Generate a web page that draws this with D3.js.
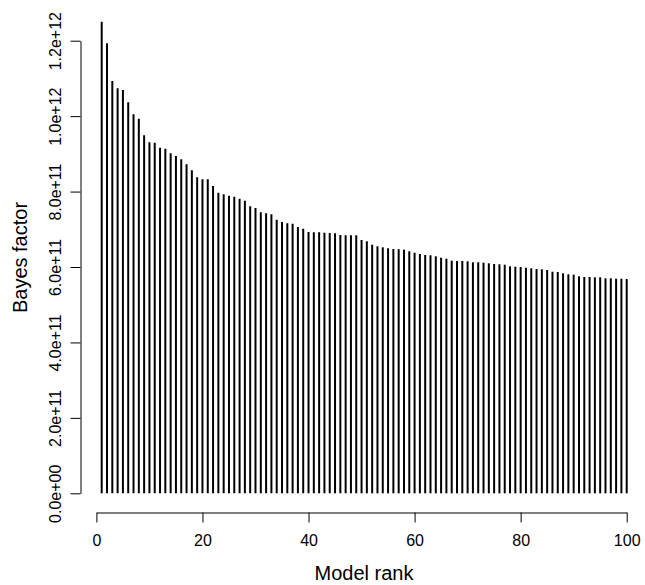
<!DOCTYPE html>
<html>
<head>
<meta charset="utf-8">
<script src="https://cdn.jsdelivr.net/npm/d3@7/dist/d3.min.js"></script>
<style>
  body { margin: 0; background: #fff; }
  text { font-family: "Liberation Sans", Arial, Helvetica, sans-serif; fill: #000; }
</style>
</head>
<body>
<div id="chart"></div>
<script>
// Bayes factor of the 100 best models, in units of 1e9
var bayesFactor = [
  1250.4, 1193.1, 1093.1, 1073.8, 1069.3, 1036.7, 1004.9, 993.2, 949.2, 930.6,
  929.6, 916.3, 913.7, 901.4, 894.3, 885.5, 872.3, 856.4, 837.8, 832.5,
  832.5, 814.8, 797.0, 792.7, 789.0, 786.4, 781.1, 775.8, 760.9, 756.4,
  745.0, 742.4, 739.7, 725.4, 719.3, 715.9, 714.8, 706.1, 701.5, 692.8,
  692.0, 692.0, 691.0, 690.1, 689.3, 684.8, 684.0, 684.0, 684.0, 671.6,
  668.1, 659.1, 654.9, 652.2, 649.6, 647.7, 647.3, 645.9, 641.6, 637.9,
  634.5, 631.8, 631.0, 628.4, 624.7, 622.0, 616.7, 615.9, 615.9, 615.1,
  612.5, 612.5, 611.4, 609.8, 608.0, 607.2, 606.1, 601.9, 600.8, 600.0,
  598.1, 596.6, 594.7, 593.9, 592.0, 587.5, 586.7, 583.3, 580.6, 579.6,
  575.3, 573.5, 573.5, 572.7, 572.7, 570.0, 570.0, 569.0, 569.0, 568.2
];

var xTicks = [0, 20, 40, 60, 80, 100];
var yTicks = [0, 2e11, 4e11, 6e11, 8e11, 1e12, 1.2e12];
var yTickLabels = ["0.0e+00", "2.0e+11", "4.0e+11", "6.0e+11", "8.0e+11", "1.0e+12", "1.2e+12"];

var xTitle = "Model rank";
var yTitle = "Bayes factor";

var w = 645;
var h = 585;

var data = bayesFactor.map(function(v, i) {
  return { rank: i + 1, bf: v * 1e9 };
});

var svg = d3.select("#chart")
  .append("svg")
  .attr("width", w)
  .attr("height", h);

var xscale = d3.scaleLinear()
  .domain([0, 100])
  .range([96.4, 626.7]);

var yscale = d3.scaleLinear()
  .domain([0, 1.2e12])
  .range([493.3, 40.7]);

// vertical lines, like R's type = "h"
svg.selectAll("line.bar")
  .data(data)
  .enter().append("line")
  .attr("class", "bar")
  .attr("x1", function(d) { return xscale(d.rank); })
  .attr("x2", function(d) { return xscale(d.rank); })
  .attr("y1", yscale(0))
  .attr("y2", function(d) { return yscale(d.bf); })
  .attr("stroke", "#000")
  .attr("stroke-width", 2);

var xAxis = d3.axisBottom(xscale)
  .tickValues(xTicks)
  .tickSizeInner(10)
  .tickSizeOuter(0)
  .tickFormat(d3.format("d"));

var xg = svg.append("g")
  .attr("transform", "translate(0,512.5)")
  .call(xAxis);

xg.selectAll("text")
  .attr("y", 33.5)
  .attr("dy", 0)
  .style("font-size", "16px");

var yAxis = d3.axisLeft(yscale)
  .tickValues(yTicks)
  .tickSizeInner(10)
  .tickSizeOuter(0)
  .tickFormat(function(d, i) { return yTickLabels[i]; });

var yg = svg.append("g")
  .attr("transform", "translate(80.5,0)")
  .call(yAxis);

yg.selectAll("text")
  .attr("transform", "rotate(-90)")
  .attr("x", 0)
  .attr("y", -19.5)
  .attr("dy", 0)
  .style("text-anchor", "middle")
  .style("font-size", "16px");

svg.selectAll(".domain, .tick line")
  .attr("stroke", "#000")
  .attr("stroke-width", 1);

// axis titles
svg.append("text")
  .attr("x", 364)
  .attr("y", 580)
  .style("text-anchor", "middle")
  .style("font-size", "20px")
  .text(xTitle);

svg.append("text")
  .attr("transform", "rotate(-90)")
  .attr("x", -257.5)
  .attr("y", 27)
  .style("text-anchor", "middle")
  .style("font-size", "20px")
  .text(yTitle);
</script>
</body>
</html>
